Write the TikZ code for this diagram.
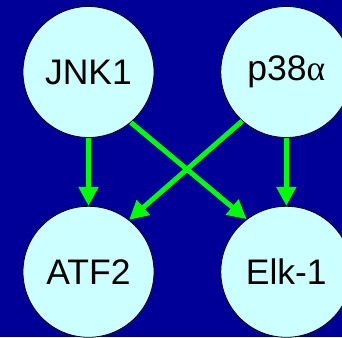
\documentclass[tikz,border=0pt]{standalone}
\usepackage{fontspec}
\setmainfont{Liberation Sans}
\newfontfamily\greekfont{Liberation Serif}
\usetikzlibrary{arrows.meta, positioning}
\definecolor{cnavy}{HTML}{000099}
\definecolor{ccyan}{HTML}{CCFFFF}
\definecolor{cgreen}{HTML}{00FF00}
\tikzset{
  every picture/.style={font=\fontsize{35.5}{40}\selectfont},
  kinase/.style={circle, draw=black, line width=0.8pt, fill=ccyan, minimum size=131pt, inner sep=0pt},
  arrow/.style={-{Triangle[length=19pt, width=19pt]}, draw=cgreen, line width=5pt},
}

\begin{document}
\begin{tikzpicture}[node distance=66pt]
  \fill[cnavy] (0,0) rectangle (342pt,-337pt);
  \useasboundingbox (0,0) rectangle (342pt,-337pt);
  \node[kinase] (jnk) at (88.5pt,-72pt) {JNK1};
  \node[kinase, right=of jnk] (p38) {p38{\greekfont α}};
  \node[kinase, below=68pt of jnk] (atf) {ATF2};
  \node[kinase, below=68pt of p38] (elk) {Elk-1};
  \draw[arrow] (jnk.south) -- (atf.north);
  \draw[arrow] (p38.south) -- (elk.north);
  \draw[arrow] (jnk.-50) -- (elk.127);
  \draw[arrow] (p38.-132) -- (atf.52);
\end{tikzpicture}
\end{document}
